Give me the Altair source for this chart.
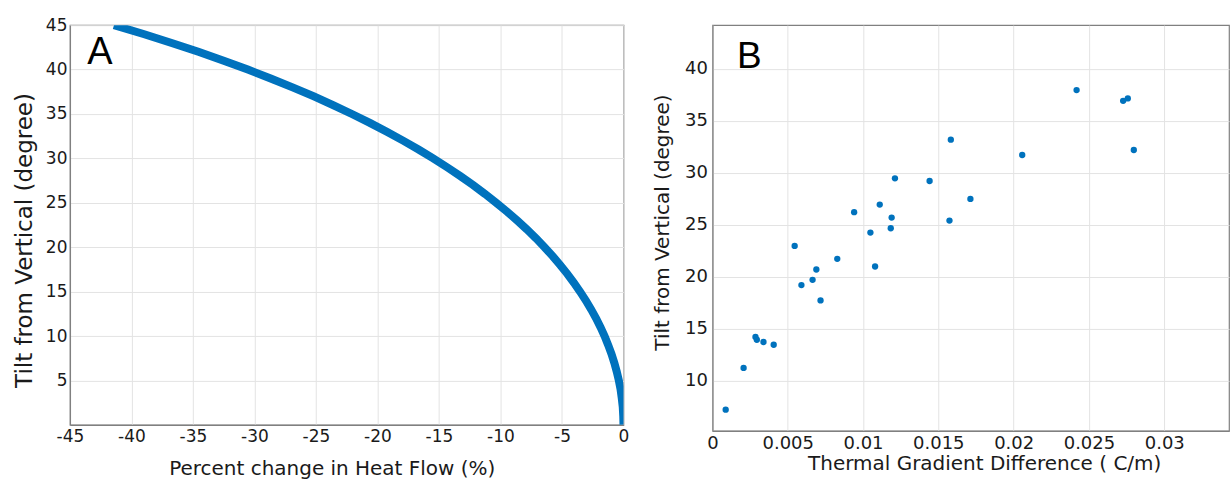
import altair as alt
import pandas as pd

# Panel A: tilt (deg) vs percent change in heat flow (%)
tilt_a = list(range(0, 46))
heat_a = [0.0, -0.02, -0.06, -0.14, -0.24, -0.38, -0.55, -0.75, -0.98, -1.25,
          -1.54, -1.87, -2.23, -2.63, -3.06, -3.53, -4.03, -4.57, -5.15, -5.76,
          -6.42, -7.11, -7.85, -8.64, -9.46, -10.34, -11.26, -12.23, -13.26, -14.34,
          -15.47, -16.66, -17.92, -19.24, -20.62, -22.08, -23.61, -25.21, -26.90, -28.68,
          -30.54, -32.50, -34.56, -36.73, -39.02, -41.42]

# Panel B: thermal gradient difference vs tilt
grad_b = [0.00088, 0.00207, 0.00286, 0.00295, 0.00339, 0.00407, 0.00546, 0.00591,
          0.00665, 0.00690, 0.00718, 0.00829, 0.00941, 0.01049, 0.01080, 0.01111,
          0.01190, 0.01184, 0.01212, 0.01442, 0.01583, 0.01574, 0.01713, 0.02057,
          0.02418, 0.02727, 0.02758, 0.02798]
tilt_b = [7.24, 11.25, 14.22, 13.96, 13.74, 13.48, 22.98, 19.21,
          19.72, 20.71, 17.74, 21.74, 26.22, 24.26, 21.0, 26.95,
          25.70, 24.68, 29.48, 29.22, 33.19, 25.41, 27.50, 31.72,
          37.96, 36.93, 37.16, 32.20]

xticks_a = [-45, -40, -35, -30, -25, -20, -15, -10, -5, 0]
yticks_a = [5, 10, 15, 20, 25, 30, 35, 40, 45]
xticks_b = [0, 0.005, 0.01, 0.015, 0.02, 0.025, 0.03]
yticks_b = [10, 15, 20, 25, 30, 35, 40]

BLUE = "#0072BD"
FONT = "DejaVu Sans"
LFONT = "Liberation Sans"

df_a = pd.DataFrame({"tilt": tilt_a, "heat": heat_a})
df_b = pd.DataFrame({"grad": grad_b, "tilt": tilt_b})

common_axis = dict(labelFont=FONT, titleFont=FONT, labelColor="#1a1a1a", titleColor="#1a1a1a",
                   titleFontWeight="normal", ticks=False, domainColor="#808080",
                   gridColor="#e3e3e3", domainWidth=1.2, labelFlush=False,
                   labelOverlap=False)

ax_a_x = alt.Axis(values=xticks_a, labelExpr="'' + datum.value", labelFontSize=17,
                  labelPadding=4, title="Percent change in Heat Flow (%)", titleFontSize=20,
                  titleX=262, titleY=44, titleBaseline="middle",
                  titleAlign="center", **common_axis)
ax_a_y = alt.Axis(values=yticks_a, labelFontSize=17, labelPadding=3,
                  title="Tilt from Vertical (degree)", titleFontSize=23,
                  titleX=-45, titleY=215, titleBaseline="middle", titleAlign="center",
                  **common_axis)

line_a = alt.Chart(df_a).mark_line(color=BLUE, strokeWidth=8, clip=True).encode(
    x=alt.X("heat:Q", scale=alt.Scale(domain=[-45, 0], nice=False), axis=ax_a_x),
    y=alt.Y("tilt:Q", scale=alt.Scale(domain=[0, 45], nice=False), axis=ax_a_y),
    order=alt.Order("tilt:Q"),
)
label_a = alt.Chart(pd.DataFrame({"t": ["A"]})).mark_text(
    font=LFONT, fontSize=38, align="center", baseline="middle", color="black"
).encode(x=alt.value(30), y=alt.value(28), text="t:N")

panel_a = alt.layer(line_a, label_a).properties(width=554, height=400)

ax_b_x = alt.Axis(values=xticks_b, format=".3~f", labelFontSize=18, labelPadding=4,
                  title="Thermal Gradient Difference ( C/m)", titleFontSize=20,
                  titleX=272, titleY=33, titleBaseline="middle", titleAlign="center",
                  **common_axis)
ax_b_y = alt.Axis(values=yticks_b, labelFontSize=18, labelPadding=5,
                  title="Tilt from Vertical (degree)", titleFontSize=20,
                  titleX=-50, titleY=197, titleBaseline="middle", titleAlign="center",
                  **common_axis)

pts_b = alt.Chart(df_b).mark_circle(color=BLUE, size=40, opacity=1).encode(
    x=alt.X("grad:Q", scale=alt.Scale(domain=[0, 0.0343], nice=False), axis=ax_b_x),
    y=alt.Y("tilt:Q", scale=alt.Scale(domain=[5.2, 44.2], nice=False), axis=ax_b_y),
)
label_b = alt.Chart(pd.DataFrame({"t": ["B"]})).mark_text(
    font=LFONT, fontSize=37, align="center", baseline="middle", color="black"
).encode(x=alt.value(37), y=alt.value(32), text="t:N")

panel_b = alt.layer(pts_b, label_b).properties(width=517, height=406)

chart = alt.hconcat(panel_a, panel_b, spacing=89, bounds="flush").properties(
    padding={"left": 13, "top": 15, "right": 0, "bottom": 0},
    background="white",
).configure_view(stroke="#808080", strokeWidth=1.2)

chart.save("out.html", embed_options={"renderer": "svg", "actions": False})
